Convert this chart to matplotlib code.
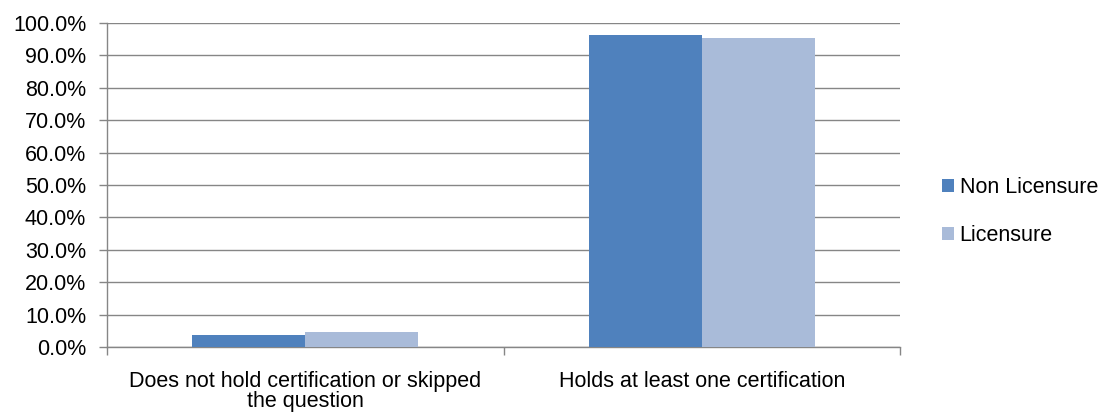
import matplotlib.pyplot as plt
import numpy as np
from matplotlib.ticker import PercentFormatter

plt.rcParams['font.family'] = ['Liberation Sans', 'DejaVu Sans']

# Data
categories = ['Does not hold certification or skipped\nthe question', 'Holds at least one certification']
non_licensure = [3.7, 96.3]
licensure = [4.6, 95.4]

c_non = '#4f81bd'
c_lic = '#a9bbd9'
grid_c = '#868686'
fs = 15.5

fig = plt.figure(figsize=(11.13, 4.12), dpi=100)
ax = fig.add_axes([107 / 1113, 1 - 347 / 412, (900 - 107) / 1113, (347 - 23) / 412])

x = np.arange(len(categories))
w = 0.285
ax.bar(x - w / 2, non_licensure, w, color=c_non, label='Non Licensure', zorder=3)
ax.bar(x + w / 2, licensure, w, color=c_lic, label='Licensure', zorder=3)

ax.set_xlim(-0.5, len(categories) - 0.5)
ax.set_ylim(0, 100)
ax.set_yticks(np.arange(0, 101, 10))
ax.yaxis.set_major_formatter(PercentFormatter(decimals=1))
ax.yaxis.grid(True, color=grid_c, linewidth=1, zorder=0)

# category labels centred, tick marks at boundaries
ax.set_xticks(x)
ax.set_xticklabels(categories, fontsize=fs, linespacing=0.95)
ax.tick_params(axis='x', length=0, pad=17)
ax.set_xticks(np.arange(-0.5, len(categories), 1), minor=True)
ax.tick_params(axis='x', which='minor', length=6, color=grid_c, width=1)
ax.tick_params(axis='y', length=6, color=grid_c, width=1, labelsize=fs, pad=9)

for s in ['top', 'right']:
    ax.spines[s].set_visible(False)
for s in ['left', 'bottom']:
    ax.spines[s].set_color(grid_c)
    ax.spines[s].set_linewidth(1)

ax.legend(loc='center left', bbox_to_anchor=(1.029, 0.418), frameon=False, fontsize=fs,
          handlelength=0.55, handleheight=0.55, handletextpad=0.25, labelspacing=1.25)

fig.savefig('out.png', dpi=100)
